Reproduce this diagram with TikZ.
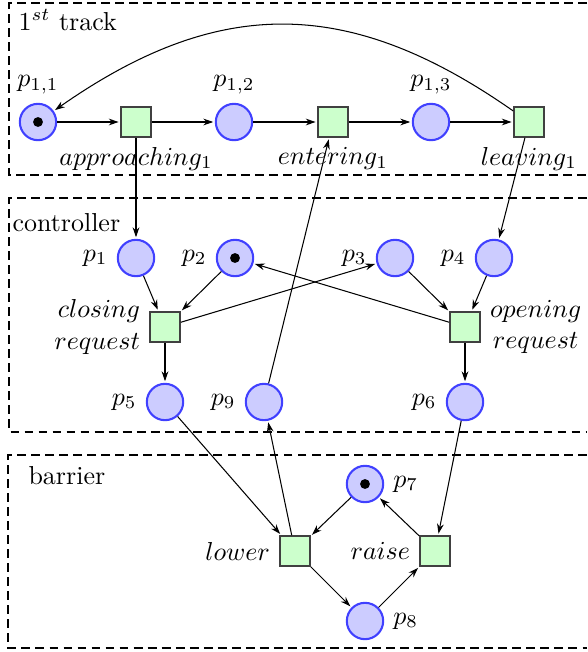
\documentclass[tikz,border=0pt]{standalone}
\usetikzlibrary{arrows.meta}
\begin{document}
\begin{tikzpicture}[x=0.385pt,y=0.385pt,
  place/.style={circle,draw=blue!75,fill=blue!20,thick,minimum size=14pt,inner sep=0pt},
  transition/.style={rectangle,draw=black!75,fill=green!20,thick,minimum size=11.4pt,inner sep=0pt},
  arc/.style={-{Stealth[length=3.8pt,width=2.6pt]},thin,shorten >=0.6pt},
  region/.style={dash pattern=on 3.4pt off 2pt,thin},
  token/.style={fill=black}
]
\useasboundingbox (0,0) rectangle (587,-652);

% regions
\draw[region] (587,-3) -- (9,-3) -- (9,-175) -- (587,-175);
\draw[region] (587,-198) -- (9,-198) -- (9,-432) -- (587,-432);
\draw[region] (587,-455) -- (8,-455) -- (8,-648) -- (587,-648);
\node[anchor=west,inner sep=0pt] (ltrack) at (18,-20) {$1^{st}$ track};
\node[anchor=west,inner sep=0pt] (lctrl) at (12,-223) {controller};
\node[anchor=west,inner sep=0pt] (lbarr) at (28,-476) {barrier};

% track
\node[place,label={above:$p_{1,1}$}] (p11) at (38,-122) {};
\node[transition,label={below:$approaching_1$}] (tapp) at (136,-122) {};
\node[place,label={above:$p_{1,2}$}] (p12) at (234,-122) {};
\node[transition,label={below:$entering_1$}] (tent) at (333,-122) {};
\node[place,label={above:$p_{1,3}$}] (p13) at (431,-122) {};
\node[transition,label={below:$leaving_1$}] (tlea) at (529,-122) {};

% controller
\node[place,label={left:$p_1$}] (p1) at (136,-258) {};
\node[place,label={left:$p_2$}] (p2) at (235,-258) {};
\node[place,label={left:$p_3$}] (p3) at (395,-258) {};
\node[place,label={left:$p_4$}] (p4) at (494,-258) {};
\node[transition,label={[align=right]left:$closing$\\$request$}] (tclo) at (165,-327) {};
\node[transition,label={[align=center]right:$opening$\\$request$}] (tope) at (465,-327) {};
\node[place,label={left:$p_5$}] (p5) at (165,-402) {};
\node[place,label={left:$p_9$}] (p9) at (264,-402) {};
\node[place,label={left:$p_6$}] (p6) at (465,-402) {};

% barrier
\node[place,label={right:$p_7$}] (p7) at (365,-484) {};
\node[transition,label={left:$lower$}] (tlow) at (295,-551) {};
\node[transition,label={left:$raise$}] (trai) at (435,-551) {};
\node[place,label={right:$p_8$}] (p8) at (365,-621) {};

% tokens
\fill[token] (p11) circle[radius=1.9pt];
\fill[token] (p2) circle[radius=1.9pt];
\fill[token] (p7) circle[radius=1.9pt];

% arcs track
\draw[arc] (p11) -- (tapp);
\draw[arc] (tapp) -- (p12);
\draw[arc] (p12) -- (tent);
\draw[arc] (tent) -- (p13);
\draw[arc] (p13) -- (tlea);
\draw[arc] (tlea) to[out=145,in=35,looseness=1.12] (p11);

% track <-> controller
\draw[arc] (tapp) -- (p1);
\draw[arc] (tlea) -- (p4);
\draw[arc] (p9) -- (tent);

% controller
\draw[arc] (p1) -- (tclo);
\draw[arc] (p2) -- (tclo);
\draw[arc] (tclo) -- (p3);
\draw[arc] (tclo) -- (p5);
\draw[arc] (tope) -- (p2);
\draw[arc] (p3) -- (tope);
\draw[arc] (p4) -- (tope);
\draw[arc] (tope) -- (p6);

% controller <-> barrier
\draw[arc] (p5) -- (tlow);
\draw[arc] (tlow) -- (p9);
\draw[arc] (p6) -- (trai);

% barrier
\draw[arc] (p7) -- (tlow);
\draw[arc] (tlow) -- (p8);
\draw[arc] (p8) -- (trai);
\draw[arc] (trai) -- (p7);
\end{tikzpicture}
\end{document}
